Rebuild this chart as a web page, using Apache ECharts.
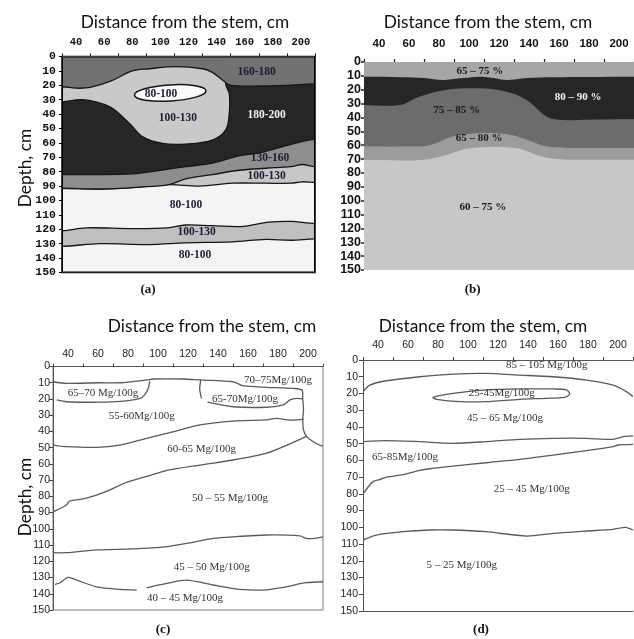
<!DOCTYPE html>
<html><head><meta charset="utf-8">
<script src="https://cdn.jsdelivr.net/npm/echarts@6/dist/echarts.min.js"></script>
<style>html,body{margin:0;padding:0;background:#fff}#chart{width:634px;height:639px}</style>
</head><body><div id="chart"></div>
<script>
// ---------- shared axis data ----------
const xTickLabels = ['40','60','80','100','120','140','160','180','200'];
const distMin = 30, distMax = 210;
const depthMin = 0, depthMax = 150, depthStep = 10;
const axisTitleX = 'Distance from the stem, cm';
const axisTitleY = 'Depth, cm';
const panelLetters = ['(a)','(b)','(c)','(d)'];

// ---------- panel (a): boundaries [distance, depth] ----------
const aTopBand   = [[30,21],[40,22],[50,21.5],[65,17],[80,10],[92,8.5],[111,7],[130,8.5],[137,11],[145,17],[150,20],[170,20.5],[190,20],[210,19]];
const aBlob      = [[30,31.5],[45,30],[64,35],[78,46.5],[87.5,55.8],[101.6,60.4],[118,60.8],[137,58],[146.5,51],[149,39.6],[149,25.8],[146.5,19]];
const aBlack     = [[30,82],[50,82],[80,81.5],[100,79],[118,76.5],[137,74],[156,69],[170,67],[193,61],[210,57.5]];
const a130       = [[30,91.5],[57,92],[85,90.7],[106,89],[118,85],[137,82],[156,79],[175,77.6],[193,76.5],[201,75],[210,76.5]];
const a100upper  = [[30,91.5],[57,92],[85,90.7],[106,89],[128,90],[151,88],[175,88],[193,88],[201,87],[210,87.5]];
const a80mid     = [[30,121],[47,119],[80,119.5],[105,119],[118,117],[137,117.5],[159,118],[177,115],[193,114.5],[210,116]];
const a100lower  = [[30,131.8],[57,130],[92,130.6],[118,129.4],[151,128.7],[175,127],[193,127.6],[210,126.7]];
const aEllipse   = [107, 25.3, 25.5, 5.6];
const aLabelText = ['160-180','80-100','100-130','180-200','130-160','100-130','80-100','100-130','80-100'];
const aLabelAt   = [[168.5,11],[100.4,26],[112.5,42.6],[175.6,40.8],[178,70.3],[175.6,83.1],[118.2,102.8],[125.8,122],[124.6,138.2]];

// ---------- panel (b) ----------
const bTop   = [[30,10.6],[56,11],[70,11.5],[82.7,13],[94,11.8],[107,10.6],[116,11.5],[125,13],[138.5,11.6],[156,11],[180,10.8],[210,10.6]];
const bBlack = [[30,31],[54,31],[67,25],[85,20],[107,19],[125,21.4],[138.5,27.4],[152,39.4],[163,41.8],[185,41.5],[210,41.3]];
const b7585  = [[30,61],[56,61],[74,60],[89,53.8],[105,51.4],[125,52],[138.5,56],[152,61],[167,62],[190,62],[210,62]];
const b6580  = [[30,70.5],[56,71],[70,70.5],[85,67],[97,63],[107,61.5],[125,61.5],[135,63],[145,67],[158,70],[175,70.5],[210,70.5]];
const bLabelText = ['65 – 75 %','80 – 90 %','75 – 85 %','65 – 80 %','60 – 75 %'];
const bLabelAt   = [[107.3,6.5],[172.7,25.7],[91.8,34.6],[106.7,54.8],[109.3,104.6]];

// ---------- panel (c) ----------
const c1  = [[30,9.4],[39,10.4],[61,10],[75,10],[92.5,8.3],[97,7.7],[117,7.7],[128,8.3],[150,9.4],[157,12],[172.5,12.8],[190,13.5],[196,14.5],[196.5,20],[197,26.8],[196.5,33],[197,39],[199,43],[203,46],[208,48.5],[210,49]];
const c2  = [[32.5,20.6],[39,21.7],[61,22],[75,21.5],[88,19.6],[91,17.6],[93.5,13.4],[94.5,9]];
const c3a = [[128.5,8.3],[127.8,14],[129,19.6]];
const c3b = [[133,22],[150,24.8],[172.5,25.1],[183.5,23.7],[188,20.6],[192.5,19.6],[196.5,20]];
const c4  = [[30,48.4],[39,49.4],[59,49.8],[74.7,48.4],[88,45.3],[105.8,41.2],[128,36],[150,33.6],[172.5,32.9],[179,32],[188,33],[197,32.6]];
const c5  = [[30,89.5],[39,85.3],[41,82.9],[50,81.5],[59,79.2],[68,76],[79,71.4],[95,67],[106,64],[128,60.7],[150,57.6],[172,53.5],[186,48.4],[199,43]];
const c6  = [[30,114.7],[39,114.7],[59,113],[83.5,112.4],[105.8,111],[119,109],[137,105.9],[150,104.9],[172.5,103.8],[194.7,104.4],[199,105.9],[203,106],[210,104.9]];
const c7a = [[31.3,134.2],[34.7,133.2],[40,129.9],[45.8,131.6],[59,135.7],[74.7,137.3],[85.8,137.7]];
const c7b = [[92.5,136.3],[105.8,133.6],[119,131.6],[137,134.6],[154.7,137.3],[170,137.7],[183.5,136],[199,133.2],[210,132.6]];
const cLabelText = ['70–75Mg/100g','65–70 Mg/100g','65-70Mg/100g','55-60Mg/100g','60-65 Mg/100g','50 – 55 Mg/100g','45 – 50 Mg/100g','40 – 45 Mg/100g'];
const cLabelAt   = [[180,8.3],[63.3,16.5],[158,20.2],[89.1,30.5],[129.1,51],[148,80.8],[135.8,123.3],[118,142.8]];

// ---------- panel (d) ----------
const d1 = [[30,18.9],[34.5,15],[45.6,12.4],[67.8,10],[90,8.4],[112,8],[134.5,9],[156.7,10],[179,12],[196.7,15],[205.6,18.9],[210,21.9]];
const d2 = [[76.7,22.3],[90,19.9],[112,17.9],[134.5,17.3],[156.7,17.3],[165.6,17.9],[167.8,20.3],[164.4,22.3],[152,22.9],[134.5,23.5],[112,24.9],[94.5,24.9],[79,23.5]];
const d3 = [[30,48.8],[45.6,48.2],[67.8,48.8],[90,49.8],[112,48.8],[134.5,47.4],[156.7,46.8],[179,46.8],[196.7,47.4],[203.3,45.8],[210,45.4]];
const d4 = [[30,80],[34.5,74.7],[37,72.5],[41,71.5],[45.6,70],[56.7,68.5],[67.8,66],[74.5,65],[90,63.4],[112,61.4],[134.5,59.4],[156.7,56.8],[179,54.2],[196.7,51.8],[200,50.8],[210,50.4]];
const d5 = [[30,107.6],[39,104.6],[56.7,102.6],[74.5,101.6],[90,101.6],[112,102.6],[139,105.2],[156.7,103.6],[179,102.2],[196.7,101.2],[205,100],[210,101.6]];
const dLabelText = ['85 – 105 Mg/100g','25-45Mg/100g','45 – 65 Mg/100g','65-85Mg/100g','25 – 45 Mg/100g','5 – 25 Mg/100g'];
const dLabelAt   = [[152.5,3],[122.5,19.9],[124.7,34.8],[58,57.8],[142.5,77.1],[95.8,122.5]];

// ---------- helpers ----------
function ringFromTop(curve){
  const a = curve[0], b = curve[curve.length-1];
  return [[a[0]-60,a[1]]].concat(curve, [[b[0]+60,b[1]],[b[0]+60,-300],[a[0]-60,-300]]);
}
function blobRing(curve){
  const a = curve[0], b = curve[curve.length-1];
  return [[a[0]-60,a[1]]].concat(curve, [[b[0],-300],[a[0]-60,-300]]);
}
function build(api, params, s){
  const cs = params.coordSys;
  if (s.kind === 'bg') return {type:'rect', shape:{x:cs.x,y:cs.y,width:cs.width,height:cs.height}, style:{fill:s.fill}};
  if (s.kind === 'frame') return {type:'rect', shape:{x:cs.x,y:cs.y,width:cs.width,height:cs.height}, style:{fill:'none',stroke:s.stroke,lineWidth:s.lw}};
  if (s.kind === 'layer' || s.kind === 'blob'){
    const ring = s.kind === 'layer' ? ringFromTop(s.curve) : blobRing(s.curve);
    return {type:'polygon', shape:{points:ring.map(p=>api.coord(p)), smooth:s.smooth||0.35},
      style:{fill:s.fill, stroke:s.stroke||null, lineWidth:s.lw||0}};
  }
  if (s.kind === 'line') return {type:'polyline', shape:{points:s.curve.map(p=>api.coord(p)), smooth:s.smooth||0.25},
      style:{fill:'none', stroke:s.stroke, lineWidth:s.lw}};
  if (s.kind === 'loop') return {type:'polygon', shape:{points:s.curve.map(p=>api.coord(p)), smooth:s.smooth||0.3},
      style:{fill:'none', stroke:s.stroke, lineWidth:s.lw}};
  if (s.kind === 'ellipse'){
    const c = api.coord([s.e[0], s.e[1]]);
    const sz = api.size([s.e[2], s.e[3]]);
    return {type:'ellipse', x:c[0], y:c[1], rotation:s.rot||0, shape:{cx:0,cy:0,rx:Math.abs(sz[0]),ry:Math.abs(sz[1])},
      style:{fill:s.fill, stroke:s.stroke, lineWidth:s.lw}};
  }
  return null;
}
function shapesSeries(p, shapes){
  return {type:'custom', xAxisIndex:2*p+1, yAxisIndex:p, clip:true, silent:true, animation:false,
    data:[[distMin, depthMin]],
    renderItem:(params, api)=>({type:'group', children:shapes.map(s=>build(api, params, s))})};
}
function labelSeries(p, texts, at, styleFn){
  return {type:'custom', xAxisIndex:2*p+1, yAxisIndex:p, silent:true, animation:false, z:5,
    data:[[distMin, depthMin]],
    renderItem:(params, api)=>({type:'group', children:texts.map((t,i)=>{
      const c = api.coord(at[i]); const st = styleFn(i);
      return {type:'text', x:c[0], y:c[1], style:Object.assign({text:t, align:'center', verticalAlign:'middle', textAlign:'center', textVerticalAlign:'middle'}, st)};
    })})};
}

// ---------- colours ----------
const aCol = {top:'#727272', blob:'#c9c9c9', black:'#262626', b130:'#8e8e8e', b100:'#c6c6c6', b80:'#f4f4f4', b100low:'#bfbfbf', ell:'#fbfbfb', edge:'#151515'};
const bCol = {top:'#a6a6a6', black:'#262626', b7585:'#6c6c6c', b6580:'#9c9c9c', b6075:'#c7c7c7'};
const lineCol = '#5a5a5a';

const grids = [
  {left:62, top:56.5, width:253, height:216},
  {left:364, top:62, width:270, height:208},
  {left:53, top:366.5, width:270, height:243.5},
  {left:363, top:360, width:270, height:251}
];

function catAxis(g, o){
  return Object.assign({gridIndex:g, type:'category', position:'top', data:xTickLabels, boundaryGap:true,
    axisLine:{show:false}, splitLine:{show:false}}, o);
}
function valX(g, o){ return Object.assign({gridIndex:g, type:'value', min:distMin, max:distMax, show:false}, o||{}); }
function valY(g, o){ return Object.assign({gridIndex:g, type:'value', inverse:true, min:depthMin, max:depthMax, interval:depthStep, splitLine:{show:false}}, o); }

const option = {
  animation:false,
  backgroundColor:'#ffffff',
  grid: [
    Object.assign({show:true, borderColor:'#000', borderWidth:1.5}, grids[0]),
    Object.assign({show:false}, grids[1]),
    Object.assign({show:true, borderColor:'#7a7a7a', borderWidth:1}, grids[2]),
    Object.assign({show:false}, grids[3])
  ],
  xAxis: [
    catAxis(0, {axisTick:{show:true, length:3, lineStyle:{color:'#000'}}, axisLabel:{margin:9, fontFamily:'Liberation Mono', fontWeight:'bold', fontSize:10.5, color:'#111'}}),
    valX(0),
    catAxis(1, {axisTick:{show:true, length:3, lineStyle:{color:'#222', width:1.2}}, axisLabel:{margin:12, fontFamily:'Liberation Sans', fontWeight:'bold', fontSize:11.5, color:'#111'}}),
    valX(1),
    catAxis(2, {axisLine:{show:true, lineStyle:{color:'#555'}}, axisTick:{show:true, length:3, lineStyle:{color:'#444'}}, axisLabel:{margin:7, fontFamily:'Liberation Sans', fontSize:10.5, color:'#222'}}),
    valX(2),
    catAxis(3, {axisLine:{show:true, lineStyle:{color:'#555'}}, axisTick:{show:true, length:3, lineStyle:{color:'#444'}}, axisLabel:{margin:9, fontFamily:'Liberation Sans', fontSize:10.5, color:'#222'}}),
    valX(3, {show:true, position:'bottom', axisLine:{show:true, onZero:false, lineStyle:{color:'#555'}}, axisTick:{show:false}, axisLabel:{show:false}, splitLine:{show:false}})
  ],
  yAxis: [
    valY(0, {axisLine:{show:false}, axisTick:{show:true, length:3, lineStyle:{color:'#000'}}, axisLabel:{margin:6, fontFamily:'Liberation Mono', fontWeight:'bold', fontSize:11.5, color:'#111'}}),
    valY(1, {axisLine:{show:false}, axisTick:{show:true, length:3, lineStyle:{color:'#222', width:1.5}}, axisLabel:{margin:3, fontFamily:'Liberation Sans', fontWeight:'bold', fontSize:12.5, color:'#111'}}),
    valY(2, {axisLine:{show:true, lineStyle:{color:'#555'}}, axisTick:{show:true, length:4, lineStyle:{color:'#444'}}, axisLabel:{margin:3, fontFamily:'Liberation Sans', fontSize:10.5, color:'#222'}}),
    valY(3, {axisLine:{show:true, lineStyle:{color:'#555'}}, axisTick:{show:true, length:4, lineStyle:{color:'#444'}}, axisLabel:{margin:5, fontFamily:'Liberation Sans', fontSize:10.5, color:'#222'}})
  ],
  series: [
    shapesSeries(0, [
      {kind:'bg', fill:aCol.b80},
      {kind:'layer', curve:a100lower, fill:aCol.b100low, stroke:aCol.edge, lw:1.3},
      {kind:'layer', curve:a80mid, fill:aCol.b80, stroke:aCol.edge, lw:1.3},
      {kind:'layer', curve:a100upper, fill:aCol.b100, stroke:aCol.edge, lw:1.3},
      {kind:'layer', curve:a130, fill:aCol.b130, stroke:aCol.edge, lw:1.3},
      {kind:'layer', curve:aBlack, fill:aCol.black, stroke:aCol.edge, lw:1.3},
      {kind:'blob', curve:aBlob, fill:aCol.blob, stroke:aCol.edge, lw:1.3},
      {kind:'layer', curve:aTopBand, fill:aCol.top, stroke:aCol.edge, lw:1.3},
      {kind:'ellipse', e:aEllipse, fill:aCol.ell, stroke:aCol.edge, lw:1.5, rot:0.06},
      {kind:'frame', stroke:'#000', lw:2}
    ]),
    labelSeries(0, aLabelText, aLabelAt, i=>({font:'bold 11.5px "Liberation Serif"', fill: i===3 ? '#f2f2f2' : '#1c1c38'})),
    shapesSeries(1, [
      {kind:'bg', fill:bCol.b6075},
      {kind:'layer', curve:b6580, fill:bCol.b6580},
      {kind:'layer', curve:b7585, fill:bCol.b7585},
      {kind:'layer', curve:bBlack, fill:bCol.black},
      {kind:'layer', curve:bTop, fill:bCol.top}
    ]),
    labelSeries(1, bLabelText, bLabelAt, i=>({font:'bold 11px "Liberation Serif"', fill: i===1 ? '#f5f5f5' : '#1a1a1a'})),
    shapesSeries(2, [c1,c2,c3a,c3b,c4,c5,c6,c7a,c7b].map(c=>({kind:'line', curve:c, stroke:lineCol, lw:1.3}))),
    labelSeries(2, cLabelText, cLabelAt, i=>({font:'11px "Liberation Serif"', fill:'#333'})),
    shapesSeries(3, [
      {kind:'line', curve:d1, stroke:lineCol, lw:1.3},
      {kind:'loop', curve:d2, stroke:lineCol, lw:1.3},
      {kind:'line', curve:d3, stroke:lineCol, lw:1.3},
      {kind:'line', curve:d4, stroke:lineCol, lw:1.3},
      {kind:'line', curve:d5, stroke:lineCol, lw:1.3}
    ]),
    labelSeries(3, dLabelText, dLabelAt, i=>({font:'11px "Liberation Serif"', fill:'#333'}))
  ],
  graphic: [
    ...[[185,22.5],[488,22.5],[212,326.5],[483,326]].map(p=>({type:'text', x:p[0], y:p[1], silent:true,
      style:{text:axisTitleX, font:'17.3px Lato', fill:'#111', align:'center', verticalAlign:'middle', textAlign:'center', textVerticalAlign:'middle'}})),
    ...[[25,168],[25,497]].map(p=>({type:'text', x:p[0], y:p[1], rotation:Math.PI/2, silent:true,
      style:{text:axisTitleY, font:'17.3px Lato', fill:'#111', align:'center', verticalAlign:'middle', textAlign:'center', textVerticalAlign:'middle'}})),
    ...[[148,290],[472.7,290],[163,630],[481,630]].map((p,i)=>({type:'text', x:p[0], y:p[1], silent:true,
      style:{text:panelLetters[i], font:'bold 13px "Liberation Serif"', fill:'#111', align:'center', verticalAlign:'middle', textAlign:'center', textVerticalAlign:'middle'}}))
  ]
};
const chart = echarts.init(document.getElementById('chart'));
chart.setOption(option);
</script></body></html>
